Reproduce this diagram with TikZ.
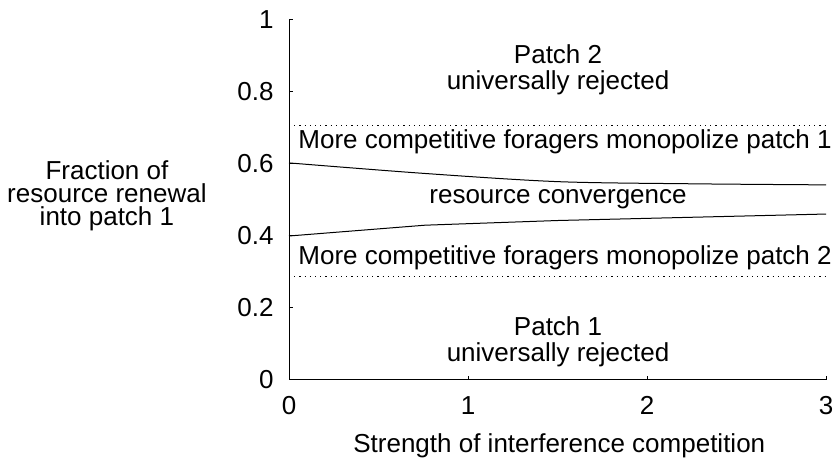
\documentclass[tikz,border=0pt]{standalone}
\usepackage{fontspec}
\setmainfont{Liberation Sans}
\begin{document}
\begin{tikzpicture}[x=89.5pt, y=180pt, line width=0.5pt,
    every node/.style={font=\fontsize{13}{13}\selectfont, inner sep=0pt},
    region/.style={align=center},
    bound/.style={dotted, line width=0.6pt}]
\useasboundingbox (-144.5pt,-42pt) rectangle (275.5pt,190pt);
                % axes
                \draw (0,1) -- (0,0) -- (3,0);
                \foreach \y [count=\i] in {0, 0.2, 0.4, 0.6, 0.8, 1} { \draw (0,\y) -- (2pt,\y); \node[anchor=east] (ytick\i) at (-7.5pt,\y) {\y}; }
                \foreach \x in {0, 1, 2, 3} { \draw (\x,0) -- (\x,2pt); \node[anchor=base] (xtick\x) at ([yshift=-17.5pt]\x,0) {\x}; }
                \node[anchor=base] (xlabel) at ([yshift=-36.5pt]1.51,0) {Strength of interference competition};
                \node[region, font=\fontsize{13}{11.5}\selectfont] (ylabel) at (-1.017,0.511) {Fraction of\\resource renewal\\into patch 1};
                
                % boundaries
                \draw[bound] (0,0.708) -- (3,0.708);
                \draw[bound] (0,0.288) -- (3,0.288);
                \draw plot[smooth] coordinates {(0,0.603) (0.75,0.574) (1.5,0.551) (2.25,0.545) (3,0.542)};
                \draw (0,0.4) -- (0.76,0.43) -- (1.5,0.443) -- (3,0.461);
                
                % regions
                \node[region] (rej2) at (1.503,0.862) {Patch 2\\universally rejected};
                \node[anchor=base west] (mono1) at (0.05,0.644) {More competitive foragers monopolize patch 1};
                \node[anchor=base] (conv) at (1.503,0.489) {resource convergence};
                \node[anchor=base west] (mono2) at (0.05,0.322) {More competitive foragers monopolize patch 2};
                \node[region] (rej1) at (1.503,0.106) {Patch 1\\universally rejected};
\end{tikzpicture}
\end{document}
